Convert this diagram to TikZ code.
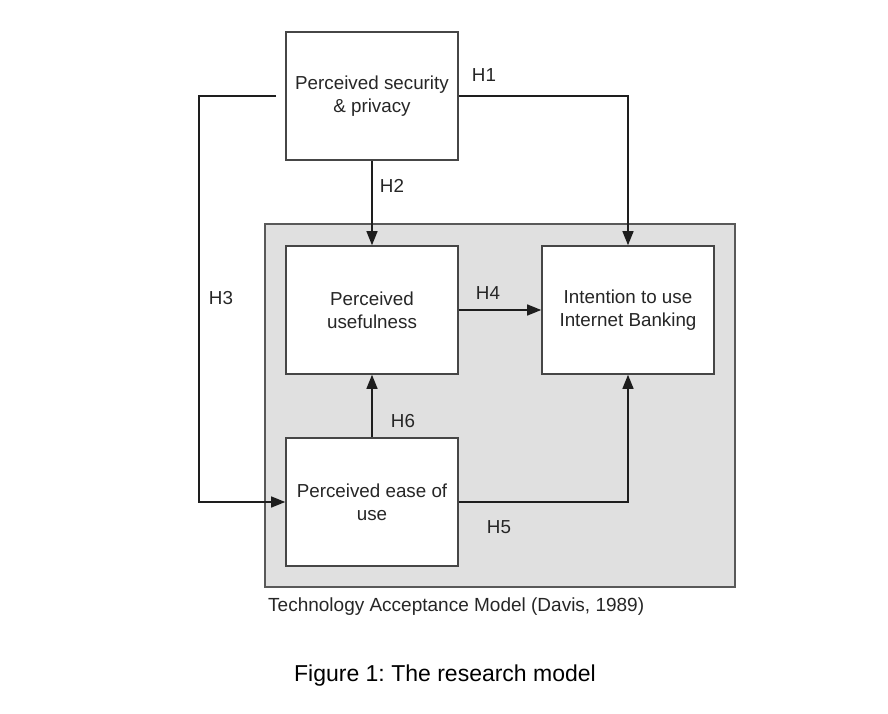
\documentclass[tikz,border=0pt]{standalone}
\usepackage{fontspec}
\setmainfont{Liberation Sans}
\usetikzlibrary{arrows.meta}
\definecolor{tamgray}{RGB}{224,224,224}
\definecolor{linecol}{RGB}{30,30,30}
\definecolor{boxline}{RGB}{70,70,70}
\frenchspacing
\begin{document}
\begin{tikzpicture}[x=1pt,y=-1pt,
  every node/.style={font=\fontsize{18.8}{23}\selectfont, text=black!85},
  concept/.style={draw=boxline, line width=1.6pt, fill=white, minimum width=172pt, minimum height=128pt, align=center, inner sep=0pt},
  conn/.style={draw=linecol, line width=1.3pt},
  arr/.style={conn, -{Triangle[length=14pt,width=11pt]}},
  lbl/.style={inner sep=0pt}
]
\useasboundingbox (0,0) rectangle (888,714);
\node[draw=boxline!90, line width=1.6pt, fill=tamgray, minimum width=470pt, minimum height=363pt, inner sep=0pt] (tam) at (500,405.5) {};
\node[concept] (psp) at (372,96) {Perceived security\\\& privacy};
\node[concept] (pu) at (372,310) {Perceived\\usefulness};
\node[concept] (iu) at (628,310) {Intention to use\\Internet Banking};
\node[concept] (peou) at (372,502) {Perceived ease of\\use};
\coordinate (h3s) at (276,96);
% H1
\draw[arr] (psp.east) -| (iu.north);
% H2
\draw[arr] (psp.south) -- (pu.north);
% H3
\draw[arr] (h3s) -- (199,96) |- (peou.west);
% H4
\draw[arr] (pu.east) -- (iu.west);
% H5
\draw[arr] (peou.east) -| (iu.south);
% H6
\draw[arr] (peou.north) -- (pu.south);
\node[lbl] (l1) at (484,75) {H1};
\node[lbl] (l2) at (392,186) {H2};
\node[lbl] (l3) at (221,298) {H3};
\node[lbl] (l4) at (488,293) {H4};
\node[lbl] (l5) at (499,527) {H5};
\node[lbl] (l6) at (403,421) {H6};
\node[lbl, anchor=west, font=\fontsize{19}{23}\selectfont] (cap1) at (268,607) {Technology Acceptance Model (Davis, 1989)};
\node[lbl, font=\fontsize{23}{27}\selectfont, text=black] (cap2) at (445,676) {Figure 1: The research model};
\end{tikzpicture}
\end{document}
